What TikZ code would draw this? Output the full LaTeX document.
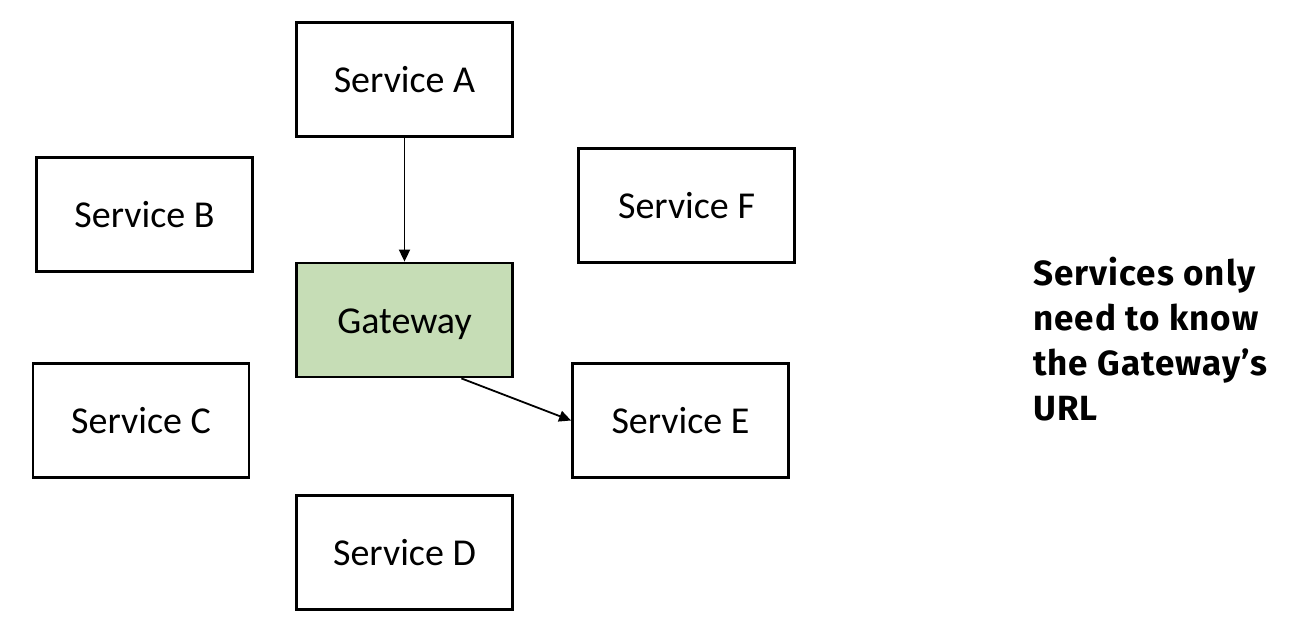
\documentclass[tikz,border=0pt]{standalone}
\usepackage{fontspec}
\setmainfont{Carlito}
\newfontfamily\notefont[LetterSpace=3]{Fira Sans}
\usetikzlibrary{arrows.meta,calc}
\definecolor{gwgreen}{HTML}{C6DDB6}
\tikzset{
  svc/.style={draw=black, line width=2.8pt, fill=white, minimum width=216pt, minimum height=114pt, inner sep=0pt, text height=26pt, text depth=0pt, font=\fontsize{38}{42}\selectfont},
  gw/.style={svc, fill=gwgreen},
  link/.style={line width=1.8pt, -{Triangle[length=12pt,width=11pt]}},
  note/.style={anchor=base west, inner sep=0pt, font=\notefont\bfseries\fontsize{35}{40}\selectfont}
}
\begin{document}
\begin{tikzpicture}[x=1pt,y=-1pt]
\useasboundingbox[fill=white] (0,0) rectangle (1294,638);
\node[svc] (a) at (404.5,79.5) {Service A};
\node[svc] (b) at (144.5,214.5) {Service B};
\node[svc] (f) at (686.5,205.5) {Service F};
\node[gw]  (g) at (404.5,320) {Gateway};
\node[svc] (c) at (141,420.5) {Service C};
\node[svc] (e) at (680.5,420.5) {Service E};
\node[svc] (d) at (404.5,552.5) {Service D};
\draw[link] (a.south) -- (g.north);
\draw[link] ($(g.south west)!0.76!(g.south east)$) -- (e.west);
\node[note] (t1) at (1033,285) {Services only};
\node[note] (t2) at (1033,330) {need to know};
\node[note] (t3) at (1033,375) {the Gateway’s};
\node[note] (t4) at (1033,420) {URL};
\end{tikzpicture}
\end{document}
